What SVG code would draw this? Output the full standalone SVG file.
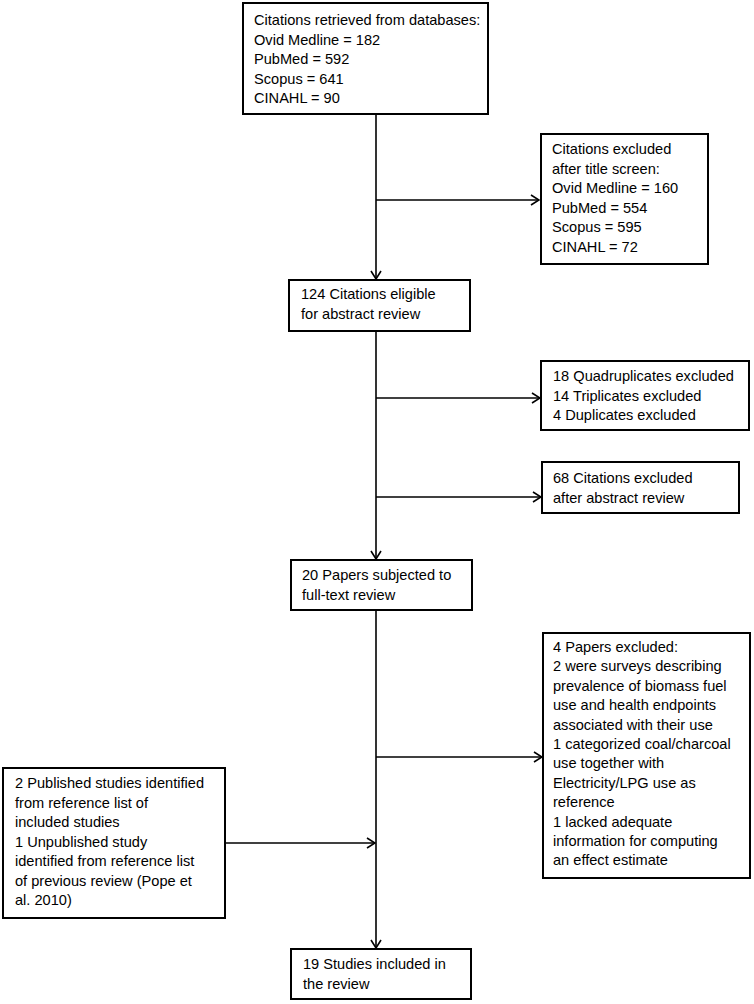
<svg xmlns="http://www.w3.org/2000/svg" width="754" height="1004" viewBox="0 0 754 1004">
<style>
.box{fill:#fff;stroke:#000;stroke-width:2}
.t{font-family:"Liberation Sans",Arial,sans-serif;font-size:14.6px;fill:#000}
.ln{stroke:#000;stroke-width:1.6;fill:none}
</style>
<defs>
<marker id="arr" markerWidth="10" markerHeight="12" refX="9" refY="6" orient="auto" markerUnits="userSpaceOnUse">
<path d="M1,1 L9,6 L1,11" fill="none" stroke="#000" stroke-width="1.6"/>
</marker>
</defs>
<rect width="754" height="1004" fill="#fff"/>
<g id="connectors">
<line class="ln" x1="376" y1="114" x2="376" y2="279" marker-end="url(#arr)"/>
<line class="ln" x1="376" y1="200" x2="539" y2="200" marker-end="url(#arr)"/>
<line class="ln" x1="376" y1="331" x2="376" y2="559" marker-end="url(#arr)"/>
<line class="ln" x1="376" y1="398" x2="540" y2="398" marker-end="url(#arr)"/>
<line class="ln" x1="376" y1="497" x2="541" y2="497" marker-end="url(#arr)"/>
<line class="ln" x1="376" y1="610" x2="376" y2="948" marker-end="url(#arr)"/>
<line class="ln" x1="376" y1="757" x2="542" y2="757" marker-end="url(#arr)"/>
<line class="ln" x1="225" y1="843" x2="375" y2="843" marker-end="url(#arr)"/>
</g>
<g id="n1">
<rect class="box" x="243" y="3" width="245" height="111"/>
<text class="t"><tspan x="254" y="25">Citations retrieved from databases:</tspan><tspan x="254" y="44.5">Ovid Medline = 182</tspan><tspan x="254" y="64">PubMed = 592</tspan><tspan x="254" y="83.5">Scopus = 641</tspan><tspan x="254" y="103">CINAHL = 90</tspan></text>
</g>
<g id="n2">
<rect class="box" x="541" y="134" width="167" height="130"/>
<text class="t"><tspan x="552" y="154">Citations excluded</tspan><tspan x="552" y="173.5">after title screen:</tspan><tspan x="552" y="193">Ovid Medline = 160</tspan><tspan x="552" y="212.5">PubMed = 554</tspan><tspan x="552" y="232">Scopus = 595</tspan><tspan x="552" y="251.5">CINAHL = 72</tspan></text>
</g>
<g id="n3">
<rect class="box" x="289" y="280" width="181" height="51"/>
<text class="t"><tspan x="301" y="299">124 Citations eligible</tspan><tspan x="301" y="318.5">for abstract review</tspan></text>
</g>
<g id="n4">
<rect class="box" x="541" y="361" width="208" height="69"/>
<text class="t"><tspan x="553" y="381">18 Quadruplicates excluded</tspan><tspan x="553" y="400.5">14 Triplicates excluded</tspan><tspan x="553" y="420">4 Duplicates excluded</tspan></text>
</g>
<g id="n5">
<rect class="box" x="542" y="462" width="197" height="51"/>
<text class="t"><tspan x="553" y="483">68 Citations excluded</tspan><tspan x="553" y="503">after abstract review</tspan></text>
</g>
<g id="n6">
<rect class="box" x="291" y="560" width="181" height="50"/>
<text class="t"><tspan x="302" y="580">20 Papers subjected to</tspan><tspan x="302" y="599.5">full-text review</tspan></text>
</g>
<g id="n7">
<rect class="box" x="543" y="633" width="207" height="245"/>
<text class="t"><tspan x="553" y="652">4 Papers excluded:</tspan><tspan x="553" y="671.4">2 were surveys describing</tspan><tspan x="553" y="690.8">prevalence of biomass fuel</tspan><tspan x="553" y="710.2">use and health endpoints</tspan><tspan x="553" y="729.6">associated with their use</tspan><tspan x="553" y="749">1 categorized coal/charcoal</tspan><tspan x="553" y="768.4">use together with</tspan><tspan x="553" y="787.8">Electricity/LPG use as</tspan><tspan x="553" y="807.2">reference</tspan><tspan x="553" y="826.6">1 lacked adequate</tspan><tspan x="553" y="846">information for computing</tspan><tspan x="553" y="865.4">an effect estimate</tspan></text>
</g>
<g id="n8">
<rect class="box" x="3" y="768" width="222" height="150"/>
<text class="t"><tspan x="15" y="788">2 Published studies identified</tspan><tspan x="15" y="807.5">from reference list of</tspan><tspan x="15" y="827">included studies</tspan><tspan x="15" y="846.5">1 Unpublished study</tspan><tspan x="15" y="866">identified from reference list</tspan><tspan x="15" y="885.5">of previous review (Pope et</tspan><tspan x="15" y="905">al. 2010)</tspan></text>
</g>
<g id="n9">
<rect class="box" x="291" y="949" width="180" height="50"/>
<text class="t"><tspan x="303" y="969">19 Studies included in</tspan><tspan x="303" y="988.5">the review</tspan></text>
</g>
</svg>
